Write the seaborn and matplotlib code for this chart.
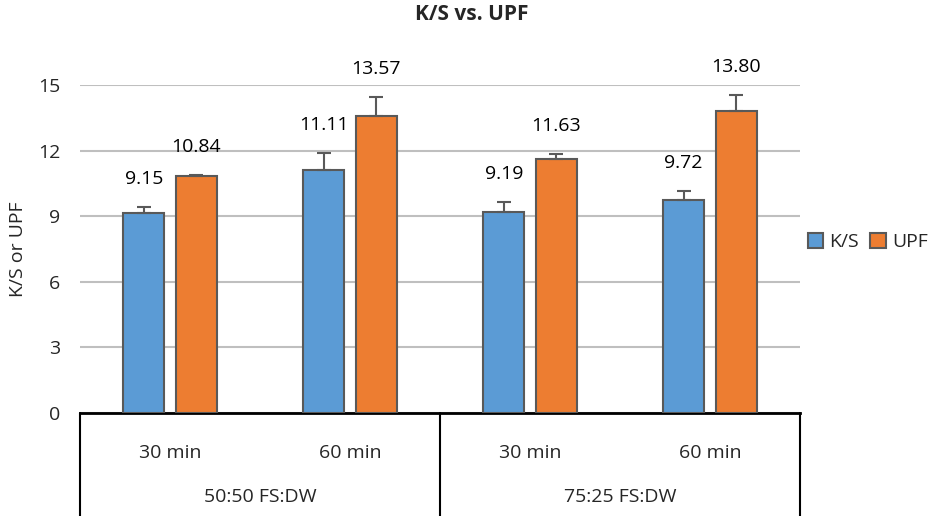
import seaborn as sns
import pandas as pd
import matplotlib.pyplot as plt
import matplotlib.transforms as mtransforms

# Data
conditions = ['50:50 30', '50:50 60', '75:25 30', '75:25 60']
time_labels = ['30 min', '60 min', '30 min', '60 min']
group_labels = ['50:50 FS:DW', '75:25 FS:DW']
ks_values = [9.15, 11.11, 9.19, 9.72]
upf_values = [10.84, 13.57, 11.63, 13.80]
ks_err = [0.29, 0.79, 0.47, 0.43]
upf_err = [0.05, 0.89, 0.21, 0.74]

df = pd.DataFrame({
    'Condition': conditions * 2,
    'Measure': ['K/S'] * 4 + ['UPF'] * 4,
    'Value': ks_values + upf_values,
    'Err': ks_err + upf_err,
})

sns.set_style('white')
plt.rcParams['font.family'] = ['Open Sans', 'DejaVu Sans']
fs = 14

fig = plt.figure(figsize=(9.44, 5.16), dpi=100)
ax = fig.add_axes([80 / 944, 1 - 413 / 516, 720 / 944, 328 / 516])

palette = {'K/S': '#5B9BD5', 'UPF': '#ED7D31'}
sns.barplot(data=df, x='Condition', y='Value', hue='Measure', order=conditions,
            palette=palette, saturation=1, width=0.584, gap=0.22,
            edgecolor='#595959', linewidth=1.5, errorbar=None, ax=ax, zorder=3)

# error bars and value labels
for cont, measure in zip(ax.containers, ['K/S', 'UPF']):
    sub = df[df['Measure'] == measure]
    for bar, val, err in zip(cont.patches, sub['Value'], sub['Err']):
        xc = bar.get_x() + bar.get_width() / 2
        ax.errorbar(xc, val, yerr=[[0], [err]], fmt='none', ecolor='#595959',
                    elinewidth=1.5, capsize=5, capthick=1.5, zorder=4)
        ax.annotate(f'{val:.2f}', (xc, val + err), xytext=(0, 20),
                    textcoords='offset points', ha='center', va='center',
                    fontsize=fs, color='black')

ax.set_ylim(0, 15)
ax.set_xlim(-0.5, 3.5)
ax.set_yticks([0, 3, 6, 9, 12, 15])
ax.yaxis.grid(True, color='#BFBFBF', linewidth=1.5, zorder=0)
ax.set_axisbelow(True)
for s in ['left', 'right', 'top']:
    ax.spines[s].set_visible(False)
ax.spines['bottom'].set_color('black')
ax.spines['bottom'].set_linewidth(2)
ax.tick_params(axis='y', labelsize=fs, length=0, pad=14)
ax.set_xticks(range(4))
ax.set_xticklabels(time_labels, fontsize=fs)
ax.tick_params(axis='x', length=0, pad=22)
ax.set_xlabel('')
ax.set_ylabel('K/S or UPF', fontsize=fs, labelpad=8)

# two-level category box
trans = mtransforms.blended_transform_factory(ax.transData, ax.transAxes)
for xs in [-0.5, 1.5, 3.5]:
    ax.plot([xs, xs], [0, -0.33], color='black', linewidth=1.5,
            transform=trans, clip_on=False)
for i, g in enumerate(group_labels):
    ax.text(0.5 + 2 * i, -0.256, g, transform=trans, ha='center', va='center',
            fontsize=fs)

fig.text(472 / 944, 1 - 14 / 516, 'K/S vs. UPF', ha='center', va='center',
         fontsize=15, fontweight='bold')

ax.legend(loc='center left', bbox_to_anchor=(800 / 944, 1 - 242 / 516),
          bbox_transform=fig.transFigure, ncol=2, frameon=False, fontsize=fs,
          handlelength=0.8, handleheight=0.8, handletextpad=0.3,
          columnspacing=0.6, borderaxespad=0)

fig.savefig('out.png', dpi=100)
